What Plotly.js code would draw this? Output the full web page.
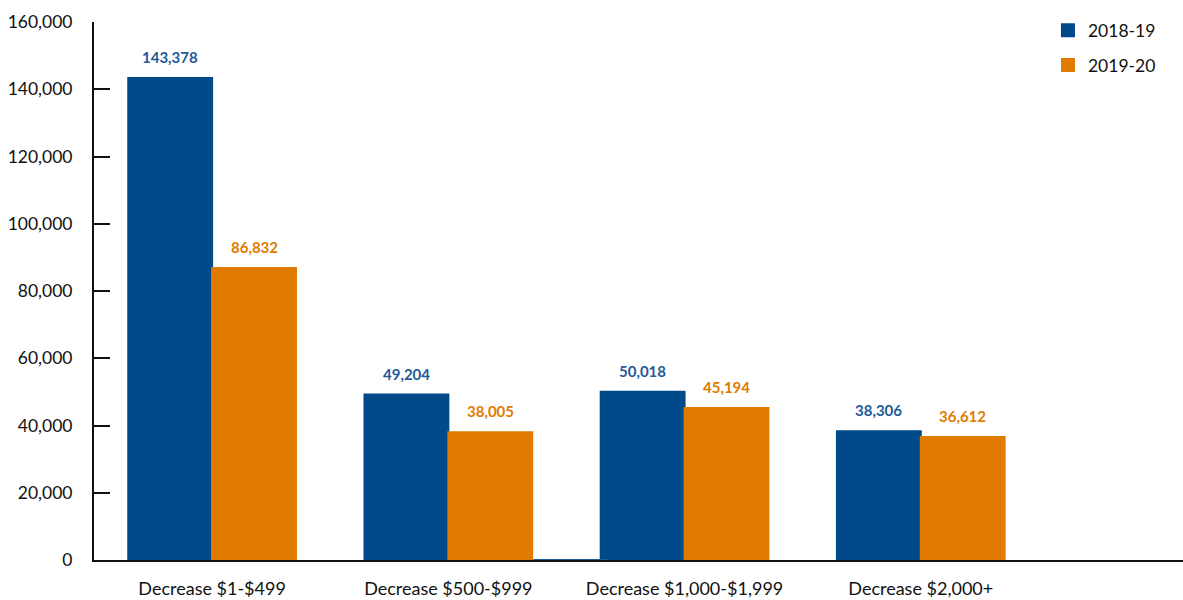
<!DOCTYPE html>
<html>
<head>
<meta charset="utf-8">
<script src="https://cdn.plot.ly/plotly-3.0.1.min.js"></script>
<style>html,body{margin:0;padding:0;background:#fff;}#chart{width:1183px;height:600px;}</style>
</head>
<body>
<div id="chart"></div>
<script>
const categories = ["Decrease $1-$499", "Decrease $500-$999", "Decrease $1,000-$1,999", "Decrease $2,000+"];
const seriesNames = ["2018-19", "2019-20"];
const values2018 = [143378, 49204, 50018, 38306];
const values2019 = [86832, 38005, 45194, 36612];
const barColors = ["#004A8A", "#E07B00"];
const labelColors = ["#1F5A99", "#E07B00"];
const yTicks = [0, 20000, 40000, 60000, 80000, 100000, 120000, 140000, 160000];

const FONT = "Lato, 'Open Sans', sans-serif";
const allValues = [values2018, values2019];

const traces = allValues.map((vals, i) => ({
  type: "bar",
  name: seriesNames[i],
  x: categories,
  y: vals,
  marker: {color: barColors[i], line: {color: barColors[i], width: 2}},
  legendgroup: "g" + i,
  hoverinfo: "none"
}));

const annotations = [];
allValues.forEach((vals, i) => {
  vals.forEach((v, j) => {
    annotations.push({
      x: categories[j], y: v, xref: "x", yref: "y",
      text: v.toLocaleString("en-US"),
      showarrow: false, yanchor: "bottom",
      xshift: i === 0 ? -42 : 42, yshift: 10,
      font: {family: FONT, size: 15, color: labelColors[i], weight: 700}
    });
  });
});

const layout = {
  width: 1183, height: 600,
  margin: {l: 94, r: 0, t: 22, b: 40},
  paper_bgcolor: "#fff", plot_bgcolor: "#fff",
  barmode: "group", bargap: 0.29, bargroupgap: 0,
  font: {family: FONT, size: 17, color: "#111"},
  showlegend: true,
  legend: {
    x: 0.876, y: 1.018, xanchor: "left", yanchor: "top",
    traceorder: "grouped", tracegroupgap: 9,
    font: {family: FONT, size: 17.5, color: "#111"},
    bgcolor: "rgba(0,0,0,0)"
  },
  xaxis: {
    type: "category", categoryorder: "array", categoryarray: categories,
    range: [-0.5, 4.11],
    showline: true, linecolor: "#111", linewidth: 2,
    ticks: "", showgrid: false, zeroline: false,
    ticklabelstandoff: 11,
    tickfont: {family: FONT, size: 18, color: "#111"}
  },
  yaxis: {
    range: [0, 160000], tickvals: yTicks,
    ticktext: yTicks.map(v => v.toLocaleString("en-US")),
    showline: true, linecolor: "#111", linewidth: 2,
    ticks: "inside", ticklen: 16, tickwidth: 2, tickcolor: "#111",
    showgrid: false, zeroline: false,
    ticklabelstandoff: 16,
    tickfont: {family: FONT, size: 17.5, color: "#111"}
  },
  annotations: annotations,
  shapes: [{
    type: "line", xref: "x", yref: "y",
    x0: 1.36, x1: 1.68, y0: 0, y1: 0,
    line: {color: "#1F5A99", width: 2}, layer: "above"
  }]
};

Plotly.newPlot("chart", traces, layout, {displayModeBar: false, staticPlot: true});
</script>
</body>
</html>
